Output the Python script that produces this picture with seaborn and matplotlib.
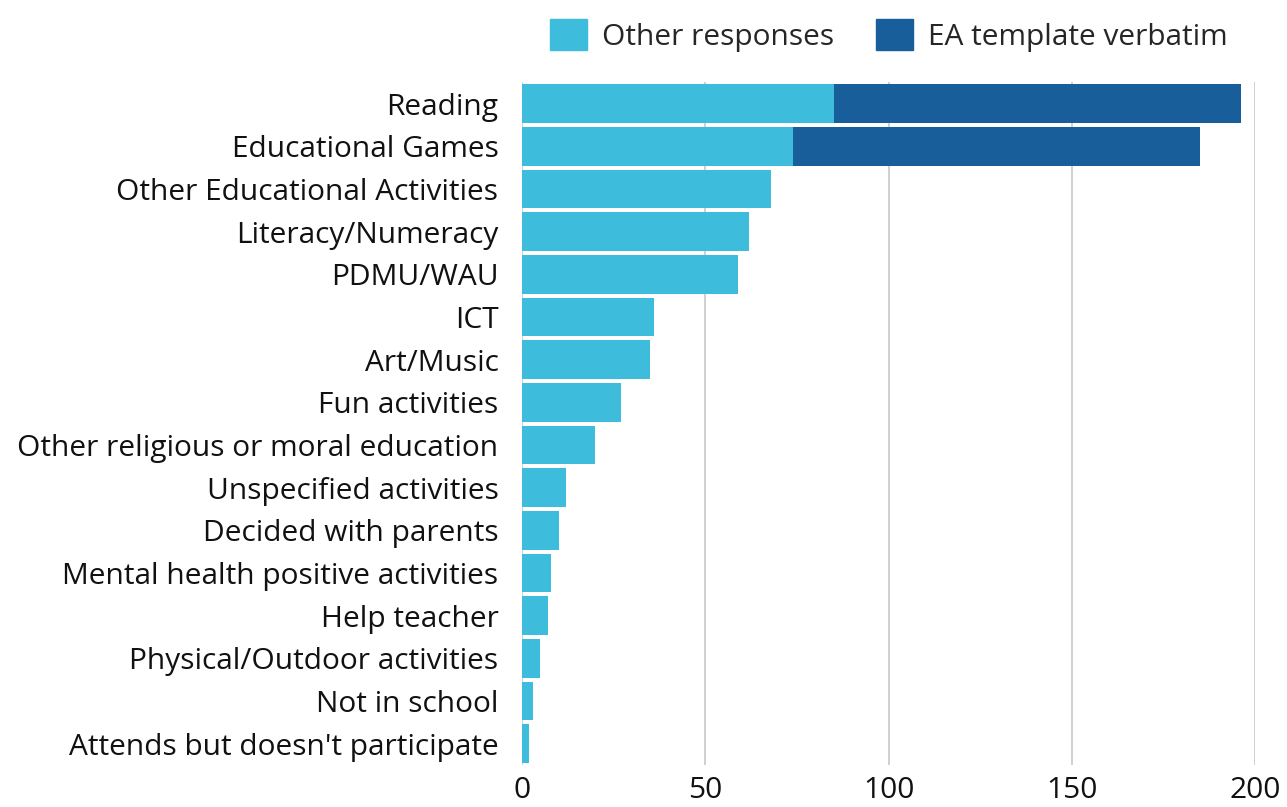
import matplotlib
matplotlib.use("Agg")
import matplotlib.pyplot as plt
import pandas as pd
import seaborn as sns
from matplotlib.patches import Patch

categories = [
    "Reading", "Educational Games", "Other Educational Activities",
    "Literacy/Numeracy", "PDMU/WAU", "ICT", "Art/Music", "Fun activities",
    "Other religious or moral education", "Unspecified activities",
    "Decided with parents", "Mental health positive activities",
    "Help teacher", "Physical/Outdoor activities", "Not in school",
    "Attends but doesn't participate",
]
other_responses = [85, 74, 68, 62, 59, 36, 35, 27, 20, 12, 10, 8, 7, 5, 3, 2]
ea_verbatim = [111, 111, 0, 0, 0, 0, 0, 0, 0, 0, 0, 0, 0, 0, 0, 0]

light = "#3dbcdc"
dark = "#185e9a"

df = pd.DataFrame({"category": categories, "other": other_responses, "ea": ea_verbatim})
df["total"] = df["other"] + df["ea"]

sns.set_style("white")
plt.rcParams["font.family"] = ["Open Sans", "DejaVu Sans"]

fig, ax = plt.subplots(figsize=(12.87, 8.07), dpi=100)
fig.subplots_adjust(left=0.4056, right=0.9755, top=0.898, bottom=0.052)

sns.barplot(data=df, y="category", x="total", color=dark, saturation=1, width=0.9,
            linewidth=0, ax=ax, orient="h")
sns.barplot(data=df, y="category", x="other", color=light, saturation=1, width=0.9,
            linewidth=0, ax=ax, orient="h")

ax.set_xlim(0, 200)
ax.set_xticks([0, 50, 100, 150, 200])
ax.set_xlabel("")
ax.set_ylabel("")
ax.tick_params(axis="both", labelsize=21.5, length=0, colors="#111111")
ax.tick_params(axis="y", pad=17)
ax.tick_params(axis="x", pad=8)
ax.grid(axis="x", color="#c8c8c8", linewidth=1.2)
ax.set_axisbelow(True)
sns.despine(ax=ax, left=True, bottom=True)

handles = [Patch(color=light, label="Other responses"), Patch(color=dark, label="EA template verbatim")]
fig.legend(handles=handles, loc="upper right", bbox_to_anchor=(0.975, 1.01), ncol=2, frameon=False,
           fontsize=21.5, handlelength=1.25, handleheight=1.25, columnspacing=1.4, handletextpad=0.5)

fig.savefig("out.png", dpi=100)
